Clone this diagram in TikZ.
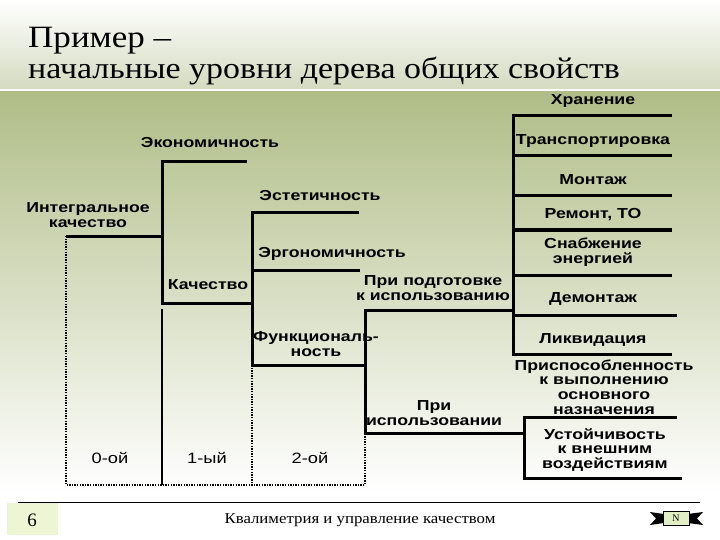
\documentclass[tikz,border=0pt]{standalone}
\usepackage{fontspec}
\setmainfont{Liberation Serif}
\newfontfamily\labfont[FakeStretch=1.22]{Liberation Sans}
\newfontfamily\ttlfont[FakeStretch=1.13]{Liberation Serif}
\newfontfamily\ftrfont[FakeStretch=1.12]{Liberation Serif}
\definecolor{bandtop}{RGB}{176,189,135}
\definecolor{titlebot}{RGB}{212,219,192}
\definecolor{numbox}{RGB}{238,245,212}
\definecolor{navbox}{RGB}{226,238,196}
\begin{document}
\begin{tikzpicture}[x=1pt,y=-1pt,
  branch/.style={line width=3pt, line join=miter},
  dots/.style={line width=1.6pt, dash pattern=on 1.4pt off 1.2pt},
  lab/.style={font=\labfont\bfseries\fontsize{14.5}{14.6}\selectfont, align=center, inner sep=0pt},
  lvl/.style={font=\labfont\fontsize{15}{15}\selectfont, inner sep=0pt}]
\useasboundingbox (0,0) rectangle (720,540);
% background
\shade[top color=white, bottom color=titlebot] (0,0) rectangle (720,89);
\fill[white] (0,89) rectangle (720,92);
\shade[top color=bandtop, bottom color=white] (0,92) rectangle (720,492);
\fill[white] (0,492) rectangle (720,540);
% title
\node[font=\ttlfont\fontsize{31}{31}\selectfont, anchor=base west, inner sep=0pt] (t1) at (28,48) {Пример –};
\node[font=\ttlfont\fontsize{30}{30}\selectfont, anchor=base west, inner sep=0pt] (t2) at (28,79) {начальные уровни дерева общих свойств};
% coordinates
\coordinate (i0) at (66,236); \coordinate (i1) at (162,236);
\coordinate (ecoA) at (162,162); \coordinate (ecoB) at (247,162);
\coordinate (kaA) at (162,303); \coordinate (kaB) at (252,303);
\coordinate (esA) at (252,213); \coordinate (esB) at (359,213);
\coordinate (erA) at (252,270); \coordinate (erB) at (360,270);
\coordinate (fuA) at (252,365); \coordinate (fuB) at (365,365);
\coordinate (ppA) at (365,310); \coordinate (ppB) at (513,310);
\coordinate (piA) at (365,433); \coordinate (piB) at (524,433);
\coordinate (r1A) at (513,116); \coordinate (r1B) at (672,116);
\coordinate (r2A) at (513,156); \coordinate (r2B) at (672,156);
\coordinate (r3A) at (513,196); \coordinate (r3B) at (672,196);
\coordinate (r4A) at (513,230); \coordinate (r4B) at (672,230);
\coordinate (r5A) at (513,275); \coordinate (r5B) at (672,275);
\coordinate (r6A) at (513,315); \coordinate (r6B) at (677,315);
\coordinate (r7A) at (513,354); \coordinate (r7B) at (672,354);
\coordinate (s1A) at (524,417); \coordinate (s1B) at (677,417);
\coordinate (s2A) at (524,478); \coordinate (s2B) at (682,478);
\coordinate (c1t) at (162,309); \coordinate (c1b) at (162,485);
\coordinate (d0) at (66,485); \coordinate (d2) at (252,485); \coordinate (d3) at (365,485);
% tree lines
\draw[branch] (i0) -- (i1);
\draw[branch] (ecoB) -- (ecoA) -- (kaA) -- (kaB);
\draw[branch] (esB) -- (esA) -- (fuA) -- (fuB);
\draw[branch] (erA) -- (erB);
\draw[branch] (ppB) -- (ppA) -- (piA) -- (piB);
\draw[branch] (r1B) -- (r1A) -- (r7A) -- (r7B);
\draw[branch] (r2A) -- (r2B);
\draw[branch] (r3A) -- (r3B);
\draw[branch] (r4A) -- (r4B);
\draw[branch] (r5A) -- (r5B);
\draw[branch] (r6A) -- (r6B);
\draw[branch] (s1B) -- (s1A) -- (s2A) -- (s2B);
\draw[line width=2.6pt] (c1t) -- (c1b);
% dotted frame
\draw[dots] (i0) -- (d0) -- (d3) -- (piA);
\draw[dots] (fuA) -- (d2);
% labels
\node[lab] (nint) at (88,215) {Интегральное\\качество};
\node[lab] (neco) at (210,143) {Экономичность};
\node[lab] (nkach) at (208,285) {Качество};
\node[lab] (nest) at (320,196) {Эстетичность};
\node[lab] (nerg) at (332,254) {Эргономичность};
\node[lab] (nfun) at (316,344) {Функциональ-\\ность};
\node[lab] (npp) at (433,288) {При подготовке\\к использованию};
\node[lab] (npi) at (434,413) {При\\использовании};
\node[lab] (nhr) at (593,101) {Хранение};
\node[lab] (ntr) at (593,141) {Транспортировка};
\node[lab] (nmo) at (593,180) {Монтаж};
\node[lab] (nre) at (593,215) {Ремонт, ТО};
\node[lab] (nsn) at (593,252) {Снабжение\\энергией};
\node[lab] (nde) at (593,299) {Демонтаж};
\node[lab] (nli) at (593,340) {Ликвидация};
\node[lab] (npr) at (604,387) {Приспособленность\\к выполнению\\основного\\назначения};
\node[lab] (nus) at (605,450) {Устойчивость\\к внешним\\воздействиям};
\node[lvl] (l0) at (110,458) {0-ой};
\node[lvl] (l1) at (207,458) {1-ый};
\node[lvl] (l2) at (310,458) {2-ой};
% footer
\coordinate (fl0) at (18,502); \coordinate (fl1) at (700,502);
\draw[line width=1pt] (fl0) -- (fl1);
\node[fill=numbox, minimum width=51pt, minimum height=32pt, inner sep=0pt] (nbox) at (32,519) {};
\node[font=\fontsize{19}{19}\selectfont, inner sep=0pt] (num) at (32,520) {6};
\node[font=\ftrfont\fontsize{15}{15}\selectfont, inner sep=0pt] (ftr) at (360,520) {Квалиметрия и управление качеством};
% navigation icon
\fill[black] (650,512) -- (664,514) -- (664,523) -- (650,525) -- (656,518.5) -- cycle;
\fill[black] (703,512) -- (688,514) -- (688,523) -- (703,525) -- (697,518.5) -- cycle;
\node[draw=black, line width=0.6pt, fill=navbox, minimum width=26pt, minimum height=14pt, inner sep=0pt, font=\fontsize{10}{10}\selectfont] (nav) at (676,518) {N};
\end{tikzpicture}
\end{document}
